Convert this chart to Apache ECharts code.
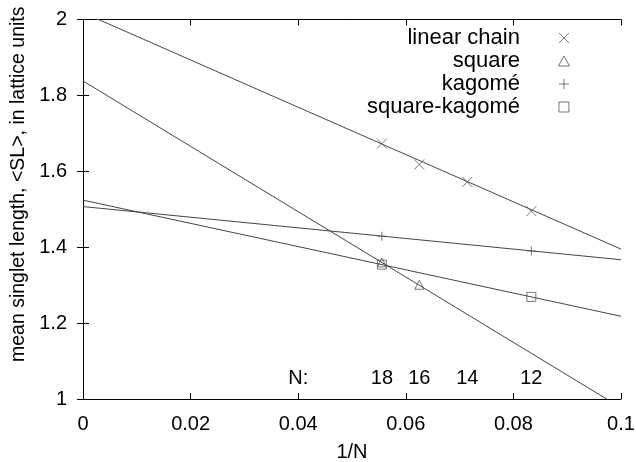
<!DOCTYPE html>
<html><head><meta charset="utf-8">
<script src="https://cdn.jsdelivr.net/npm/echarts@6/dist/echarts.min.js"></script>
<style>html,body{margin:0;padding:0;background:#fff}#c{width:636px;height:462px}</style>
</head><body><div id="c"></div>
<script>
// ---- data ----
const seriesNames = ['linear chain', 'square', 'kagomé', 'square-kagomé'];
const linearN = [18, 16, 14, 12];
const linearSL = [1.673, 1.618, 1.572, 1.495];
const squareN = [18, 16];
const squareSL = [1.360, 1.301];
const kagomeN = [18, 12];
const kagomeSL = [1.429, 1.390];
const sqKagN = [18, 12];
const sqKagSL = [1.354, 1.269];
// fitted straight lines: value at 1/N = 0 and at 1/N = 0.1
const fitX = [0, 0.1];
const linearFit = [2.018, 1.395];
const squareFit = [1.838, 0.977];
const kagomeFit = [1.507, 1.367];
const sqKagFit = [1.524, 1.218];
// N annotation row
const nLabelN = [18, 16, 14, 12];
const nLabelY = 1.053;
const nTitleX = 0.04;
const xTicks = [0, 0.02, 0.04, 0.06, 0.08, 0.1];
const yTicks = [1, 1.2, 1.4, 1.6, 1.8, 2];

// ---- styles ----
const FONT = 'Liberation Sans';
const markColor = '#555';
const lineColor = '#444';
const symX = 'path://M0,0L10,10M10,0L0,10';
const symTri = 'path://M5,0L10,9L0,9Z';
const symPlus = 'path://M5,0L5,10M0,5L10,5';
const symSq = 'path://M0,0L10,0L10,10L0,10Z';
const symbols = [symX, symTri, symPlus, symSq];
const sizes = [10, 9, 9, 9];

const pts = (ns, vs) => ns.map((n, i) => [1 / n, vs[i]]);
const fit = (vs) => fitX.map((x, i) => [x, vs[i]]);

const markData = [pts(linearN, linearSL), pts(squareN, squareSL), pts(kagomeN, kagomeSL), pts(sqKagN, sqKagSL)];
const fitData = [fit(linearFit), fit(squareFit), fit(kagomeFit), fit(sqKagFit)];

const series = [];
fitData.forEach((d) => {
  series.push({
    type: 'line', data: d, showSymbol: false, symbol: 'none', clip: true, silent: true,
    lineStyle: { color: lineColor, width: 1 }, z: 2
  });
});
markData.forEach((d, i) => {
  series.push({
    type: 'scatter', name: seriesNames[i], data: d, symbol: symbols[i], symbolSize: sizes[i],
    itemStyle: { color: 'transparent', borderColor: markColor, borderWidth: 1 }, z: 3
  });
});
// N labels
series.push({
  type: 'scatter', silent: true, symbol: 'circle', symbolSize: 1, z: 5,
  itemStyle: { color: 'transparent' },
  data: [[nTitleX, nLabelY, 'N:']].concat(nLabelN.map(n => [1 / n, nLabelY, String(n)])),
  label: { show: true, position: 'inside', formatter: p => p.data[2], color: '#000', textBorderWidth: 0, opacity: 1, fontFamily: FONT, fontSize: 20 }
});

const axisFont = { color: '#000', fontFamily: FONT, fontSize: 20 };
const option = {
  animation: false,
  backgroundColor: '#fff',
  grid: { left: 83, right: 15, top: 19.5, bottom: 63, outerBoundsMode: 'none', containLabel: false },
  legend: {
    data: seriesNames.map((n, i) => ({ name: n, icon: symbols[i] })),
    orient: 'vertical', align: 'right', right: 61, top: 22,
    itemWidth: 78, itemHeight: 10, itemGap: 1, selectedMode: false,
    itemStyle: { color: 'transparent', borderColor: markColor, borderWidth: 1 },
    textStyle: { color: '#000', fontFamily: FONT, fontSize: 22, lineHeight: 18 }
  },
  xAxis: [{
    type: 'value', min: 0, max: 0.1, interval: 0.02,
    name: '1/N', nameLocation: 'middle', nameGap: 43, nameTextStyle: axisFont,
    axisLine: { lineStyle: { color: '#000', width: 1 } },
    axisTick: { inside: true, length: 6, lineStyle: { color: '#000' } },
    axisLabel: Object.assign({ margin: 15, formatter: v => String(+v.toFixed(2)) }, axisFont),
    splitLine: { show: false }
  }, {
    type: 'value', position: 'top', min: 0, max: 0.1, interval: 0.02,
    axisLine: { show: true, lineStyle: { color: '#000', width: 1 } },
    axisTick: { inside: true, length: 6, lineStyle: { color: '#000' } },
    axisLabel: { show: false }, splitLine: { show: false }
  }],
  yAxis: [{
    type: 'value', min: 1, max: 2, interval: 0.2,
    name: 'mean singlet length, <SL>, in lattice units', nameLocation: 'middle', nameGap: 52,
    nameTextStyle: Object.assign({}, axisFont, { fontSize: 19.5, padding: [0, 0, 0, 50] }),
    axisLine: { show: true, lineStyle: { color: '#000', width: 1 } },
    axisTick: { inside: true, length: 6, lineStyle: { color: '#000' } },
    axisLabel: Object.assign({ margin: 16, formatter: v => String(+v.toFixed(1)) }, axisFont),
    splitLine: { show: false }
  }, {
    type: 'value', position: 'right', min: 1, max: 2, interval: 0.2,
    axisLine: { show: true, lineStyle: { color: '#000', width: 1 } },
    axisTick: { inside: true, length: 6, lineStyle: { color: '#000' } },
    axisLabel: { show: false }, splitLine: { show: false }
  }],
  series: series
};
echarts.init(document.getElementById('c'), null, { renderer: 'canvas' }).setOption(option);
</script></body></html>
